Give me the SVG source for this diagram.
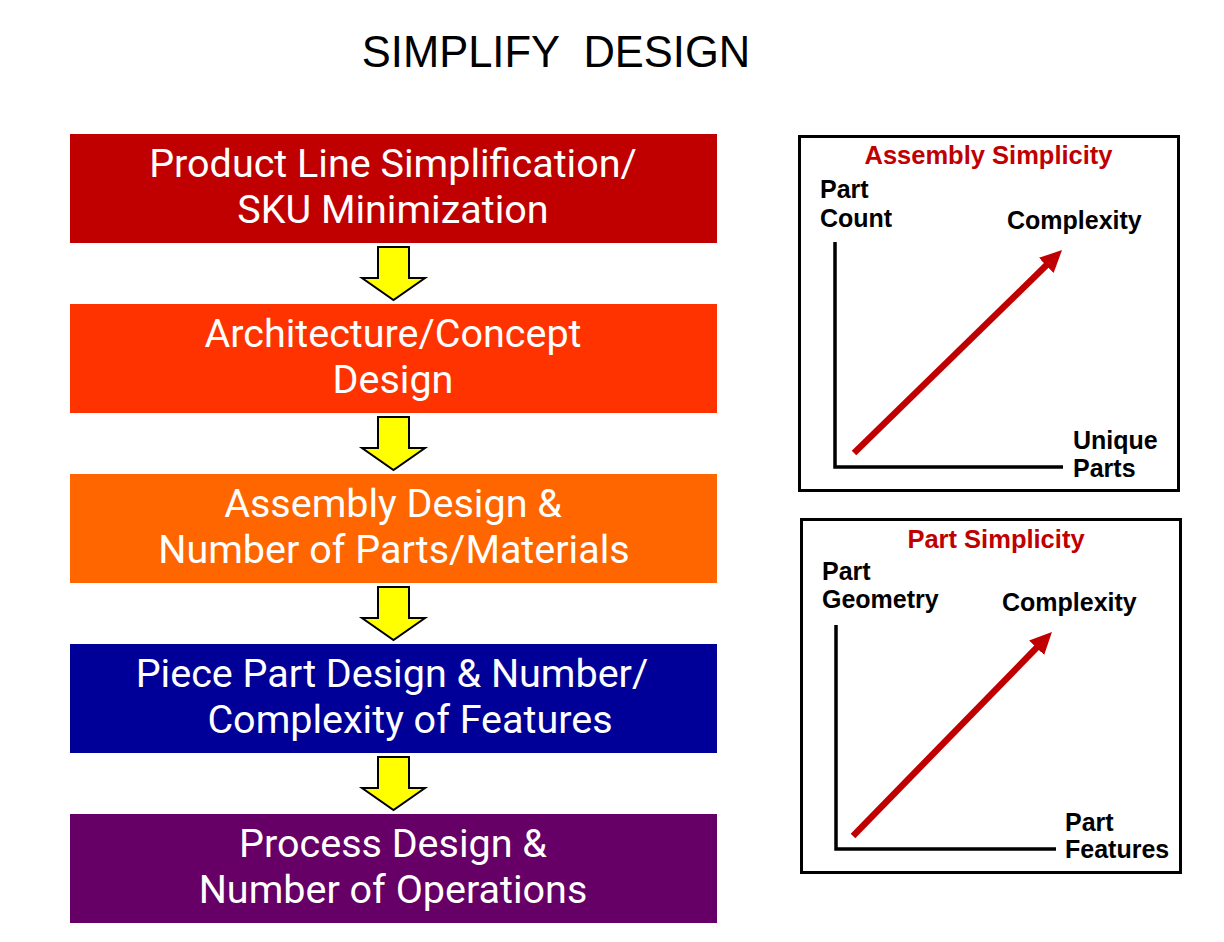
<svg xmlns="http://www.w3.org/2000/svg" width="1224" height="942" viewBox="0 0 1224 942">
<style>
.title{font-family:"Liberation Sans",Arial,sans-serif;font-size:43.5px;fill:#000}
.box text{font-family:Roboto,"Noto Sans",sans-serif;font-size:39.5px;fill:#fff;text-anchor:middle}
.frame{fill:#fff;stroke:#000;stroke-width:3}
.axis{fill:none;stroke:#000;stroke-width:3.5}
.ct{font-family:"Liberation Sans",Arial,sans-serif;font-weight:bold;font-size:25.5px;fill:#C00000;text-anchor:middle}
.lbl{font-family:"Liberation Sans",Arial,sans-serif;font-weight:bold;font-size:25px;fill:#000}
.trend{stroke:#C00000;stroke-width:6.5;fill:none}
.ya{fill:#FFFF00;stroke:#000;stroke-width:2;stroke-linejoin:miter}
</style>
<defs>
<marker id="rh" markerUnits="userSpaceOnUse" markerWidth="22" markerHeight="21" viewBox="0 0 22 21" refX="1" refY="10.5" orient="auto">
<path d="M0,0 L22,10.5 L0,21 z" fill="#C00000"/>
</marker>
<path id="ydown" d="M378,0 H409 V31 H425 L393.5,53 L362,31 H378 Z"/>
</defs>
<rect width="1224" height="942" fill="#fff"/>
<text class="title" x="556" y="67" text-anchor="middle" xml:space="preserve">SIMPLIFY  DESIGN</text>

<g id="node1" class="box">
<rect x="70" y="134" width="647" height="109" fill="#C00000"/>
<text x="393" y="177">Product Line Simplification/</text>
<text x="393" y="223">SKU Minimization</text>
</g>
<g id="node2" class="box">
<rect x="70" y="304" width="647" height="109" fill="#FF3300"/>
<text x="393" y="347">Architecture/Concept</text>
<text x="393" y="393">Design</text>
</g>
<g id="node3" class="box">
<rect x="70" y="474" width="647" height="109" fill="#FF6600"/>
<text x="393" y="517">Assembly Design &amp;</text>
<text x="394" y="563">Number of Parts/Materials</text>
</g>
<g id="node4" class="box">
<rect x="70" y="644" width="647" height="109" fill="#000099"/>
<text x="392" y="687">Piece Part Design &amp; Number/</text>
<text x="410" y="733">Complexity of Features</text>
</g>
<g id="node5" class="box">
<rect x="70" y="814" width="647" height="109" fill="#660066"/>
<text x="393" y="857">Process Design &amp;</text>
<text x="393" y="903">Number of Operations</text>
</g>

<g id="connectors">
<use href="#ydown" class="ya" transform="translate(0,247)"/>
<use href="#ydown" class="ya" transform="translate(0,417)"/>
<use href="#ydown" class="ya" transform="translate(0,587)"/>
<use href="#ydown" class="ya" transform="translate(0,757)"/>
</g>

<g id="chart1">
<rect class="frame" x="799.5" y="136.5" width="379" height="354"/>
<text class="ct" x="988.5" y="164">Assembly Simplicity</text>
<text class="lbl" x="820" y="198">Part</text>
<text class="lbl" x="820" y="227">Count</text>
<text class="lbl" x="1007" y="229">Complexity</text>
<text class="lbl" x="1073" y="449">Unique</text>
<text class="lbl" x="1073" y="477">Parts</text>
<path class="axis" d="M835,242 V467 H1063"/>
<line class="trend" x1="854" y1="453" x2="1047" y2="264.7" marker-end="url(#rh)"/>
</g>

<g id="chart2">
<rect class="frame" x="801.5" y="519.5" width="379" height="353"/>
<text class="ct" x="996" y="548">Part Simplicity</text>
<text class="lbl" x="822" y="580">Part</text>
<text class="lbl" x="822" y="608">Geometry</text>
<text class="lbl" x="1002" y="611">Complexity</text>
<text class="lbl" x="1065" y="831">Part</text>
<text class="lbl" x="1065" y="858">Features</text>
<path class="axis" d="M836,625 V849 H1056"/>
<line class="trend" x1="853" y1="836" x2="1037.3" y2="647" marker-end="url(#rh)"/>
</g>
</svg>
